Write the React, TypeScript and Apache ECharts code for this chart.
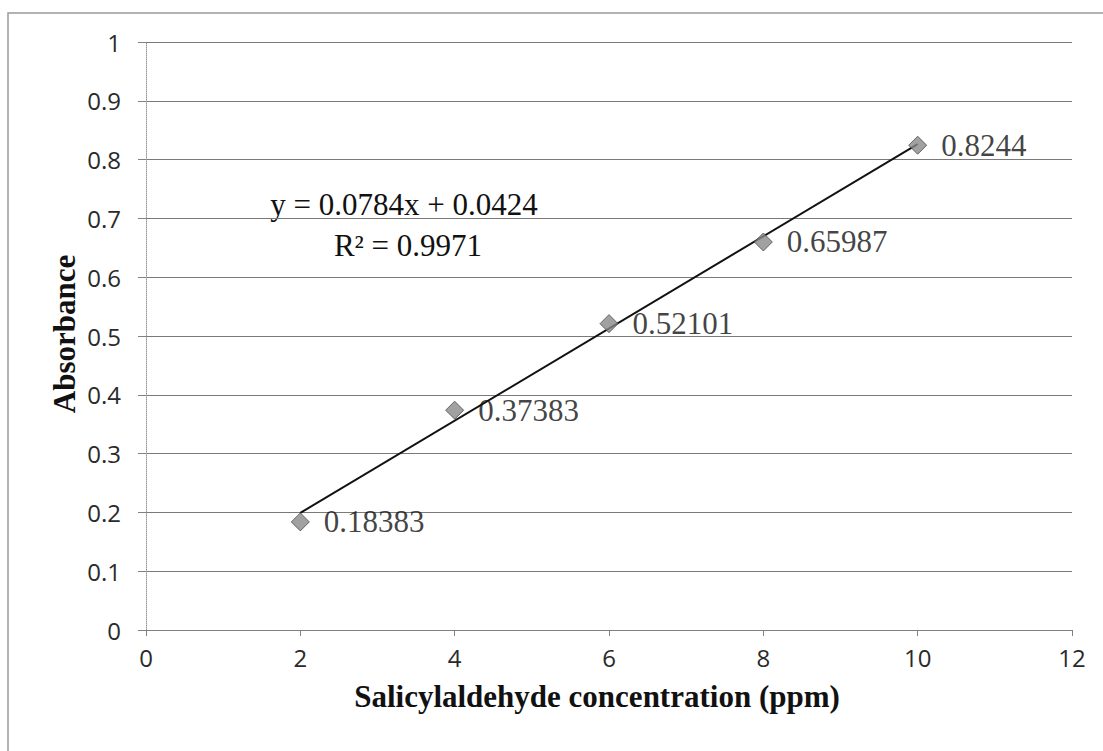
import React, { useEffect, useRef } from "react";
import * as echarts from "echarts";

const concentrations = [2, 4, 6, 8, 10];
const absorbances = [0.18383, 0.37383, 0.52101, 0.65987, 0.8244];
const trendX = [2, 10];
const trendY = [0.1992, 0.8264];
const equationText = "y = 0.0784x + 0.0424";
const r2Text = "R² = 0.9971";
const xTitle = "Salicylaldehyde concentration (ppm)";
const yTitle = "Absorbance";

export default function App() {
  const ref = useRef<HTMLDivElement>(null);
  useEffect(() => {
    if (!ref.current) return;
    const chart = echarts.init(ref.current, null, { renderer: "svg" });
    const serif = "'Liberation Serif', 'Times New Roman', serif";
    const sans = "'Open Sans', 'Liberation Sans', sans-serif";
    chart.setOption({
      animation: false,
      backgroundColor: "#ffffff",
      grid: { left: 146, right: 31, top: 42, bottom: 121, containLabel: false },
      xAxis: {
        type: "value",
        min: 0,
        max: 12,
        interval: 2,
        axisLine: { show: true, lineStyle: { color: "#808080", width: 1 } },
        axisTick: { show: true, length: 6, lineStyle: { color: "#808080" } },
        splitLine: { show: false },
        axisLabel: { margin: 15, fontFamily: sans, fontSize: 24, color: "#2a2a2a" },
      },
      yAxis: {
        type: "value",
        min: 0,
        max: 1,
        interval: 0.1,
        axisLine: { show: true, lineStyle: { color: "#999", width: 1, type: "dotted" } },
        axisTick: { show: true, length: 8, lineStyle: { color: "#808080" } },
        splitLine: { show: true, lineStyle: { color: "#7a7a7a", width: 1 } },
        axisLabel: {
          margin: 25,
          fontFamily: sans,
          fontSize: 24,
          color: "#2a2a2a",
          formatter: (v: number) => String(Math.round(v * 10) / 10),
        },
      },
      series: [
        {
          type: "line",
          data: trendX.map((x, i) => [x, trendY[i]]),
          symbol: "none",
          lineStyle: { color: "#111", width: 2 },
          z: 2,
          silent: true,
        },
        {
          type: "scatter",
          data: concentrations.map((x, i) => [x, absorbances[i]]),
          symbol: "diamond",
          symbolSize: 18,
          itemStyle: { color: "#8a8a8a", borderColor: "#4a4a4a", borderWidth: 1 },
          label: {
            show: true,
            position: "right",
            distance: 14,
            fontFamily: serif,
            fontSize: 31,
            color: "#111",
            formatter: (p: any) => String(p.value[1]),
          },
          z: 3,
        },
      ],
      graphic: [
        {
          type: "rect",
          shape: { x: 8, y: 13, width: 1200, height: 900 },
          style: { fill: "none", stroke: "#9a9a9a", lineWidth: 1.5 },
          silent: true,
          z: -1,
        },
        {
          type: "text",
          x: 404,
          y: 204,
          style: {
            text: equationText,
            font: `31px ${serif}`,
            fill: "#111",
            textAlign: "center",
            textVerticalAlign: "middle",
          },
        },
        {
          type: "text",
          x: 408,
          y: 245,
          style: {
            text: r2Text,
            font: `31px ${serif}`,
            fill: "#111",
            textAlign: "center",
            textVerticalAlign: "middle",
          },
        },
        {
          type: "text",
          x: 597,
          y: 696,
          style: {
            text: xTitle,
            font: `bold 31px ${serif}`,
            fill: "#111",
            textAlign: "center",
            textVerticalAlign: "middle",
          },
        },
        {
          type: "text",
          x: 64,
          y: 334,
          rotation: Math.PI / 2,
          style: {
            text: yTitle,
            font: `bold 31px ${serif}`,
            fill: "#111",
            textAlign: "center",
            textVerticalAlign: "middle",
          },
        },
      ],
    });
    return () => chart.dispose();
  }, []);
  return (
    <div
      ref={ref}
      style={{ position: "absolute", left: 0, top: 0, width: 1103, height: 751 }}
    />
  );
}
